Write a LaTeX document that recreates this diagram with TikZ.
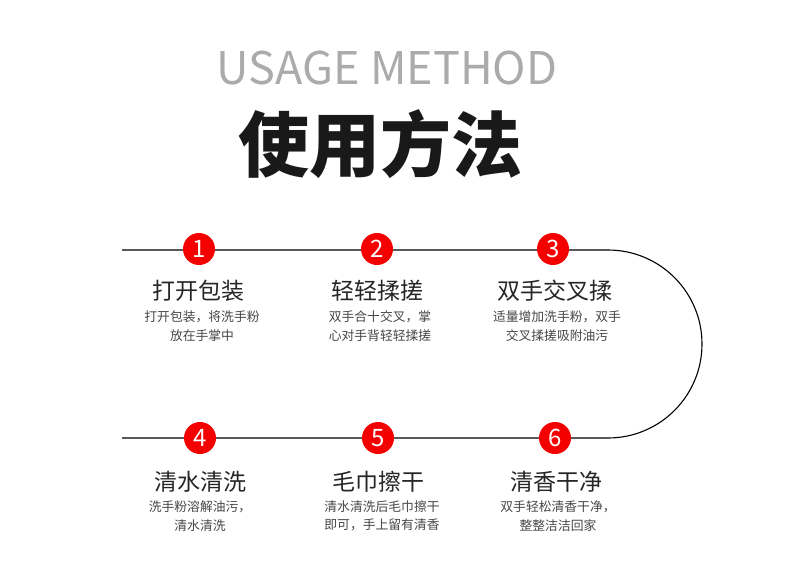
\documentclass[tikz,border=0pt]{standalone}
\usepackage{fontspec}
\setmainfont{Noto Sans CJK SC}
\usetikzlibrary{positioning}
\definecolor{stepred}{HTML}{F50000}
\tikzset{
  num/.style={circle,fill=stepred,text=white,minimum size=32pt,inner sep=0pt,font=\fontsize{24}{24}\selectfont},
  ttl/.style={text=black!85,font=\fontsize{23}{23}\selectfont},
  desc/.style={text=black!72,align=center,font=\fontsize{12.8}{18.5}\selectfont},
  trk/.style={line width=1.1pt,black},
}
\begin{document}
\begin{tikzpicture}[x=1pt,y=-1pt]
\useasboundingbox[fill=white] (0,0) rectangle (790,584);
\node[text=black!33,font=\fontsize{45}{45}\selectfont] (en) at (387,68) {USAGE METHOD};
\node[text=black!90,font=\fontsize{71}{71}\selectfont\bfseries] (cn) at (380,144) {使用方法};
% track
\coordinate (topL) at (122,250); \coordinate (turnT) at (608,250);
\coordinate (botL) at (122,438);
\draw[trk] (topL) -- (turnT) arc[start angle=-90,end angle=90,radius=94] -- (botL);
% steps
\node[num] (n1) at (199,249) {1}; \node[num] (n2) at (377,249) {2}; \node[num] (n3) at (553,249) {3};
\node[num] (n4) at (200,438) {4}; \node[num] (n5) at (378,438) {5}; \node[num] (n6) at (555,438) {6};
\node[ttl] (t1) at (198,291) {打开包装};
\node[ttl] (t2) at (377,291) {轻轻揉搓};
\node[ttl] (t3) at (555,291) {双手交叉揉};
\node[ttl] (t4) at (200,482) {清水清洗};
\node[ttl] (t5) at (378,482) {毛巾擦干};
\node[ttl] (t6) at (556,482) {清香干净};
\node[desc] (d1) at (202,326) {打开包装，将洗手粉\\放在手掌中};
\node[desc] (d2) at (380,326) {双手合十交叉，掌\\心对手背轻轻揉搓};
\node[desc] (d3) at (557,326) {适量增加洗手粉，双手\\交叉揉搓吸附油污};
\node[desc] (d4) at (200,516) {洗手粉溶解油污，\\清水清洗};
\node[desc] (d5) at (382,516) {清水清洗后毛巾擦干\\即可，手上留有清香};
\node[desc] (d6) at (558,516) {双手轻松清香干净，\\整整洁洁回家};
\end{tikzpicture}
\end{document}
